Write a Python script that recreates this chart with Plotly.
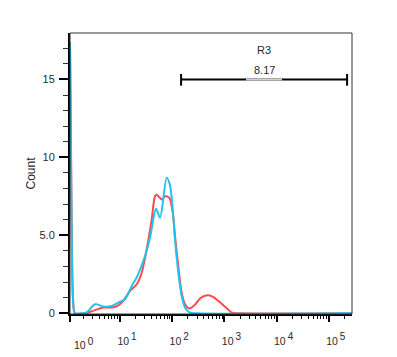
import math
import plotly.graph_objects as go

# ---- data (x in display decades: 1 -> 10^1, 2 -> 10^2, ...) ----
red_x = [0.042, 0.061, 0.080, 0.100, 0.138, 0.300, 0.393, 0.521, 0.680, 0.872, 0.967, 1.063,
         1.192, 1.320, 1.416, 1.511, 1.607, 1.670, 1.703, 1.799, 1.862, 1.944, 2.010, 2.054,
         2.117, 2.182, 2.245, 2.328, 2.437, 2.533, 2.628, 2.692, 2.782, 2.916, 3.050, 3.146,
         3.300, 5.444]
red_y = [17.4, 11.0, 4.0, 1.0, 0.0, 0.0, 0.05, 0.2, 0.36, 0.38, 0.5, 0.8,
         1.43, 1.86, 2.6, 4.1, 6.0, 7.5, 7.6, 7.3, 7.5, 7.4, 6.45, 4.95,
         3.0, 1.3, 0.58, 0.3, 0.55, 0.95, 1.12, 1.15, 1.05, 0.7, 0.3, 0.03,
         0.0, 0.0]

blue_x = [0.042, 0.061, 0.080, 0.100, 0.138, 0.300, 0.362, 0.521, 0.680, 0.841, 0.967, 1.096,
          1.224, 1.320, 1.479, 1.575, 1.690, 1.766, 1.895, 1.958, 2.010, 2.054, 2.117, 2.182,
          2.245, 2.328, 2.450, 5.444]
blue_y = [17.3, 10.0, 3.5, 0.8, 0.0, 0.0, 0.05, 0.58, 0.43, 0.47, 0.68, 0.9,
          1.75, 2.3, 3.67, 4.85, 6.7, 6.13, 8.7, 8.2, 6.67, 4.7, 2.6, 1.1,
          0.36, 0.05, 0.0, 0.0]

x_range = [0.042, 5.444]
y_range = [-0.05, 17.98]
x_major = [1, 2, 3, 4, 5]
x_exponents = ["1", "2", "3", "4", "5"]
x_first_exponent = "0"
x_first_label_pos = 0.31
y_major = [0, 5, 10, 15]
y_major_labels = ["0", "5.0", "10", "15"]

gate_name = "R3"
gate_pct = "8.17"
gate_x = [2.17, 5.35]
gate_y = 15
gate_label_gap = [3.414, 4.103]


def pow_label(e):
    return "10<sup><span style='font-size:10px'>&#8201;" + e + "</span></sup>"


x_major_labels = [pow_label(e) for e in x_exponents]

# minor ticks
x_minor = []
for d in range(0, 6):
    for k in range(2, 10):
        v = d + math.log10(k)
        if x_range[0] < v < x_range[1]:
            x_minor.append(v)
y_minor = [v for v in range(0, 18) if v not in y_major]

RED = "#ff4a4a"
BLUE = "#1ec3f2"
FONT = "Liberation Sans, Arial, sans-serif"
TXT = "#2a2a2a"

fig = go.Figure()
fig.add_trace(go.Scatter(x=red_x, y=red_y, mode="lines",
                         line=dict(color=RED, width=2, shape="spline", smoothing=0.8),
                         hoverinfo="skip", showlegend=False))
fig.add_trace(go.Scatter(x=blue_x, y=blue_y, mode="lines",
                         line=dict(color=BLUE, width=2, shape="spline", smoothing=0.8),
                         hoverinfo="skip", showlegend=False))

# gate
fig.add_shape(type="line", x0=gate_x[0], x1=gate_x[1], y0=gate_y, y1=gate_y,
              line=dict(color="black", width=2))
fig.add_shape(type="line", x0=gate_label_gap[0], x1=gate_label_gap[1], y0=gate_y, y1=gate_y,
              line=dict(color="#d0d0d0", width=2))
for gx in gate_x:
    fig.add_shape(type="line", x0=gx, x1=gx, y0=gate_y - 0.4, y1=gate_y + 0.35,
                  line=dict(color="black", width=2))
mid = (gate_label_gap[0] + gate_label_gap[1]) / 2
fig.add_annotation(x=mid, y=gate_y + 0.1, text=gate_pct, showarrow=False, yanchor="bottom",
                   font=dict(family=FONT, size=11, color=TXT))
fig.add_annotation(x=mid, y=gate_y + 1.35, text=gate_name, showarrow=False, yanchor="bottom",
                   font=dict(family=FONT, size=11, color=TXT))

# 10^0 label
fig.add_annotation(x=x_first_label_pos, y=0, yref="paper", yshift=-20,
                   text=pow_label(x_first_exponent),
                   showarrow=False, yanchor="top", font=dict(family=FONT, size=10.5, color=TXT))

# frame top/right
fig.add_shape(type="rect", xref="paper", yref="paper", x0=0, x1=1, y0=0, y1=1,
              line=dict(color="#333", width=1), layer="above")

fig.update_layout(
    width=389, height=349,
    margin=dict(l=62, r=45, t=25, b=43),
    paper_bgcolor="white", plot_bgcolor="white",
    font=dict(family=FONT, size=11, color=TXT),
    xaxis=dict(range=x_range, showgrid=False, zeroline=False, automargin=False,
               showline=True, linecolor="black", linewidth=2,
               tickmode="array", tickvals=[x_range[0]] + x_major, ticktext=[""] + x_major_labels,
               tickfont=dict(family=FONT, size=10.5, color=TXT),
               ticks="outside", ticklen=6, tickwidth=2, tickcolor="black",
               ticklabelshift=7, ticklabelstandoff=10,
               minor=dict(tickmode="array", tickvals=x_minor, ticks="outside", ticklen=3,
                          tickwidth=1, tickcolor="black", showgrid=False)),
    yaxis=dict(range=y_range, showgrid=False, zeroline=False,
               showline=True, linecolor="black", linewidth=2,
               tickmode="array", tickvals=y_major, ticktext=y_major_labels,
               ticks="outside", ticklen=9, tickwidth=2, tickcolor="black",
               ticklabelstandoff=2,
               title=dict(text="Count", font=dict(family=FONT, size=12, color=TXT), standoff=1),
               minor=dict(tickmode="array", tickvals=y_minor, ticks="outside", ticklen=5,
                          tickwidth=1, tickcolor="#333", showgrid=False)),
)

fig.write_html("out.html")
